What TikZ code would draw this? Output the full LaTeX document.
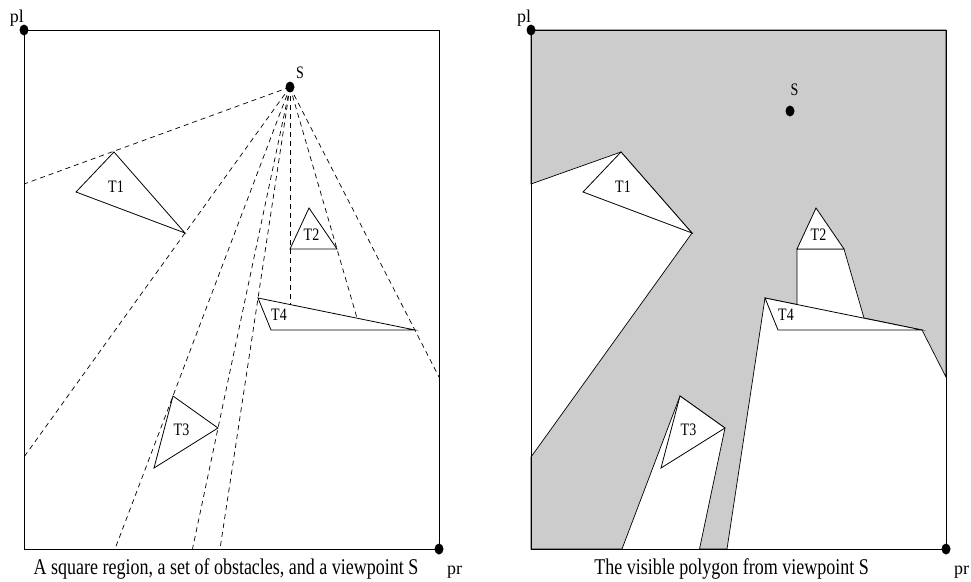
\documentclass[tikz,border=0pt]{standalone}
\usepackage{fontspec}
\setmainfont{Liberation Serif}
\definecolor{shadegray}{HTML}{CCCCCC}
\newcommand{\tallt}[1]{\scalebox{1}[1.25]{#1}}
% corners, viewpoint, obstacle vertices and ray ends of one panel
\newcommand{\scenepts}{%
  \foreach \n/\x/\y in {pl/24/30, tr/439/30, pr/439/549, bl/24/549, s/290/87,
    t1a/114/152, t1b/76/192, t1c/185/233,
    t2a/309/208, t2b/290/249, t2c/337/249,
    t3a/173/396, t3b/218/428, t3c/154/468,
    t4a/258/298, t4b/271/330, t4c/415/330,
    e1/24/184, e2/24/457, e3/115/549, e4/192.5/549, e5/220/549,
    e6/290/304.5, e7/357/318, e8/439/377}
    \coordinate (\n) at (\x,\y);
}

\begin{document}
\begin{tikzpicture}[x=1pt, y=-1pt,
  frame/.style={draw=black, line width=0.8pt},
  obst/.style={draw=black, line width=0.8pt},
  ray/.style={draw=black, line width=0.7pt, dash pattern=on 5pt off 4pt},
  lab/.style={font=\fontsize{14}{16}\selectfont, inner sep=0pt},
  cornerlab/.style={font=\fontsize{18}{20}\selectfont, inner sep=0pt, anchor=base},
  captxt/.style={font=\fontsize{18}{20}\selectfont, inner sep=0pt}]
\useasboundingbox (0,0) rectangle (971,581);

% left panel: region, obstacles and rays from S
\scenepts
\foreach \i in {1,...,8}
  \draw[ray] (s) -- (e\i);
\draw[frame] (pl) rectangle (pr);
\draw[obst] (t1a) -- (t1b) -- (t1c) -- cycle;
\draw[obst] (t2a) -- (t2b) -- (t2c) -- cycle;
\draw[obst] (t3a) -- (t3b) -- (t3c) -- cycle;
\draw[obst] (t4a) -- (t4b) -- (t4c) -- cycle;
\fill (pl) ellipse [x radius=4.5, y radius=5.5];
\fill (pr) ellipse [x radius=4.5, y radius=5.5];
\fill (s) ellipse [x radius=4.5, y radius=5.5];
\node[cornerlab] (pllbl) at (17,22.5) {pl};
\node[cornerlab] (prlbl) at (454.5,574) {pr};
\node[lab, anchor=base] (slbl) at (300,78) {\tallt{S}};
\node[lab] (t1lbl) at (116,187) {\tallt{T1}};
\node[lab] (t2lbl) at (311.5,235) {\tallt{T2}};
\node[lab] (t3lbl) at (181.5,430) {\tallt{T3}};
\node[lab] (t4lbl) at (279,315) {\tallt{T4}};
\node[captxt, anchor=base] (capl) at (226,574) {\tallt{A square region, a set of obstacles, and a viewpoint S}};

% right panel: the visible polygon
\begin{scope}[xshift=507]
\scenepts
\coordinate (sv) at (283,111);
\filldraw[fill=shadegray, line width=0.7pt] (pl) -- (tr) -- (e8) -- (t4c) -- (e7) -- (t2c) -- (t2b) -- (e6)
  -- (t4a) -- (e5) -- (e4) -- (t3b) -- (t3a) -- (e3) -- (bl) -- (e2) -- (t1c) -- (t1a) -- (e1) -- cycle;
\draw[frame] (pl) rectangle (pr);
\filldraw[obst, fill=white] (t1a) -- (t1b) -- (t1c) -- cycle;
\filldraw[obst, fill=white] (t2a) -- (t2b) -- (t2c) -- cycle;
\filldraw[obst, fill=white] (t3a) -- (t3b) -- (t3c) -- cycle;
\filldraw[obst, fill=white] (t4a) -- (t4b) -- (t4c) -- cycle;
\fill (pl) ellipse [x radius=4.5, y radius=5.5];
\fill (pr) ellipse [x radius=4.5, y radius=5.5];
\fill (sv) ellipse [x radius=4.5, y radius=5.5];
\node[cornerlab] (pllbl2) at (17,22.5) {pl};
\node[cornerlab] (prlbl2) at (454.5,574) {pr};
\node[lab, anchor=base] (slbl2) at (287.5,95) {\tallt{S}};
\node[lab] (t1lbl2) at (116,187) {\tallt{T1}};
\node[lab] (t2lbl2) at (311.5,235) {\tallt{T2}};
\node[lab] (t3lbl2) at (181.5,430) {\tallt{T3}};
\node[lab] (t4lbl2) at (279,315) {\tallt{T4}};
\node[captxt, anchor=base] (capr) at (224.5,574) {\tallt{The visible polygon from viewpoint S}};
\end{scope}
\end{tikzpicture}
\end{document}
